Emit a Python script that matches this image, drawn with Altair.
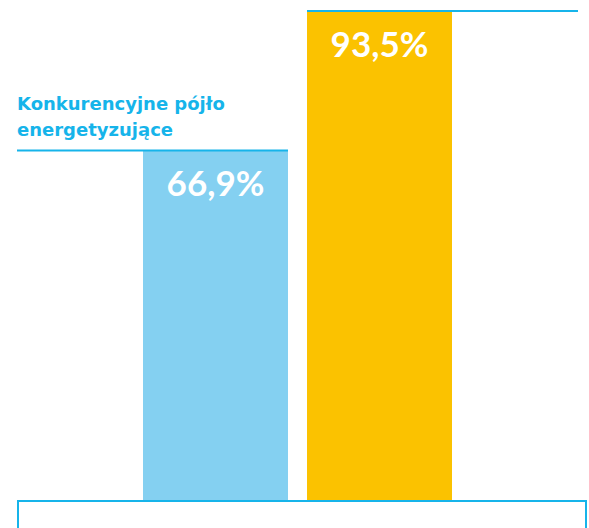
import altair as alt
import pandas as pd

categories = ["Konkurencyjne pójło\nenergetyzujące", "Nasz napój"]
values = [66.9, 93.5]
labels = ["66,9%", "93,5%"]
colors = ["#84d0f1", "#fbc200"]
line_color = "#16b4ea"

df = pd.DataFrame({"cat": categories, "value": values, "label": labels, "color": colors})

xscale = alt.Scale(range=[143, 452], paddingInner=0.116, paddingOuter=0)
yscale = alt.Scale(domain=[0, 93.5], range=[501, 11], nice=False)


def X(bp=None):
    if bp is None:
        return alt.X("cat:N", sort=categories, axis=None, scale=xscale)
    return alt.X("cat:N", sort=categories, axis=None, scale=xscale, bandPosition=bp)


Y = alt.Y("value:Q", axis=None, scale=yscale)

base = alt.Chart(df)

bars = base.mark_bar().encode(x=X(), y=Y, color=alt.Color("color:N", scale=None))

texts = base.mark_text(
    color="white", fontSize=35, font="Lato", fontWeight="bold", dy=46, baseline="alphabetic"
).encode(x=X(0.5), y=Y, text="label:N")

rule1 = base.transform_filter(alt.datum.cat == categories[0]).mark_rule(
    color=line_color, strokeWidth=2
).encode(x=X(1), x2=alt.value(17), y=Y)

rule2 = base.transform_filter(alt.datum.cat == categories[1]).mark_rule(
    color=line_color, strokeWidth=2
).encode(x=X(0), x2=alt.value(578), y=Y)

title = base.transform_filter(alt.datum.cat == categories[0]).mark_text(
    align="left", baseline="alphabetic", lineBreak="\n", lineHeight=26,
    font="DejaVu Sans", fontWeight="bold", fontSize=18, color=line_color
).encode(x=alt.value(17), y=alt.value(110), text="cat:N")

box = alt.Chart(alt.Data(values=[{}])).mark_rect(
    fillOpacity=0, stroke=line_color, strokeWidth=2
).encode(x=alt.value(18), x2=alt.value(586), y=alt.value(501), y2=alt.value(560))

chart = alt.layer(bars, texts, rule1, rule2, title, box).properties(
    width=589, height=528, padding=0, autosize=alt.AutoSizeParams(type="none")
).configure_view(stroke=None)

chart.save("out.html", embed_options={"renderer": "svg", "actions": False})
